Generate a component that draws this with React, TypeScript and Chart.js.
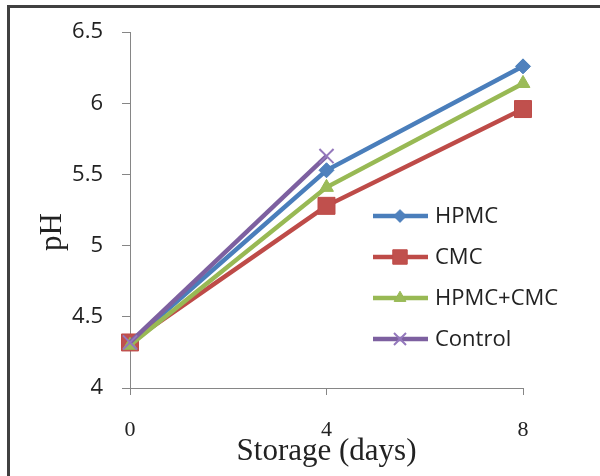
import React, { useEffect, useRef } from 'react';
import { Chart, registerables } from 'chart.js';
import { drawPoint } from 'chart.js/helpers';

Chart.register(...registerables);

// ---- data ----
const days: string[] = ['0', '4', '8'];
const hpmc: (number | null)[] = [4.32, 5.53, 6.26];
const cmc: (number | null)[] = [4.32, 5.28, 5.96];
const hpmcCmc: (number | null)[] = [4.3, 5.41, 6.14];
const control: (number | null)[] = [4.32, 5.63, null];
const seriesNames: string[] = ['HPMC', 'CMC', 'HPMC+CMC', 'Control'];
const yMin = 4;
const yMax = 6.5;
const yStep = 0.5;
const xTitle = 'Storage (days)';
const yTitle = 'pH';

const SANS = "'Open Sans', 'Liberation Sans', sans-serif";
const SERIF = "'Liberation Serif', 'DejaVu Serif', serif";
const AXIS = '#868686';
const TEXT = '#222222';

export default function App() {
  const ref = useRef<HTMLCanvasElement | null>(null);

  useEffect(() => {
    const canvas = ref.current;
    if (!canvas) return;

    const styles = [
      { line: '#4A7EBB', fill: '#4F81BD', point: 'rectRot', radius: 7.5, bw: 1 },
      { line: '#BE4B48', fill: '#C0504D', point: 'rect', radius: 12, bw: 1 },
      { line: '#98B954', fill: '#9BBB59', point: 'triangle', radius: 8, bw: 1 },
      { line: '#7D60A0', fill: '#9478BC', point: 'crossRot', radius: 10, bw: 2 },
    ];
    const values = [hpmc, cmc, hpmcCmc, control];

    const legendPlugin = {
      id: 'excelLegend',
      afterDatasetsDraw(chart: any) {
        const ctx = chart.ctx as CanvasRenderingContext2D;
        ctx.save();
        chart.data.datasets.forEach((ds: any, i: number) => {
          const y = 216 + i * 41;
          ctx.strokeStyle = ds.borderColor;
          ctx.lineWidth = 4.5;
          ctx.lineCap = 'butt';
          ctx.beginPath();
          ctx.moveTo(373, y);
          ctx.lineTo(428, y);
          ctx.stroke();
          ctx.fillStyle = ds.pointBackgroundColor;
          ctx.strokeStyle = ds.pointBorderColor;
          ctx.lineWidth = ds.pointBorderWidth;
          drawPoint(ctx, {
            pointStyle: ds.pointStyle,
            radius: ds.pointRadius * 0.85,
            rotation: 0,
            borderWidth: ds.pointBorderWidth,
          } as any, 400, y);
          ctx.fillStyle = TEXT;
          ctx.font = `22px ${SANS}`;
          ctx.textAlign = 'left';
          ctx.textBaseline = 'middle';
          ctx.fillText(ds.label, 435, y + 1);
        });
        ctx.restore();
      },
    };

    const titlesPlugin = {
      id: 'axisTitles',
      afterDraw(chart: any) {
        const ctx = chart.ctx as CanvasRenderingContext2D;
        const area = chart.chartArea;
        ctx.save();
        ctx.fillStyle = TEXT;
        ctx.font = `31px ${SERIF}`;
        ctx.textAlign = 'center';
        ctx.textBaseline = 'alphabetic';
        ctx.fillText(xTitle, (area.left + area.right) / 2, 460);
        ctx.translate(61, 232);
        ctx.rotate(-Math.PI / 2);
        ctx.fillText(yTitle, 0, 0);
        ctx.restore();
      },
    };

    const chart = new Chart(canvas, {
      type: 'line',
      data: {
        labels: days,
        datasets: seriesNames.map((name, i) => ({
          label: name,
          data: values[i],
          borderColor: styles[i].line,
          backgroundColor: styles[i].fill,
          pointBackgroundColor: styles[i].fill,
          pointBorderColor: i === 3 ? styles[i].fill : styles[i].line,
          pointBorderWidth: styles[i].bw,
          pointStyle: styles[i].point as any,
          pointRadius: styles[i].radius,
          borderWidth: 4.5,
          tension: 0,
          fill: false,
          spanGaps: false,
          clip: false as any,
          order: 4 - i,
        })),
      },
      options: {
        animation: false,
        responsive: false,
        maintainAspectRatio: false,
        devicePixelRatio: 1,
        layout: { padding: { top: 32, right: 77, left: 0, bottom: 0 } },
        plugins: {
          legend: { display: false },
          tooltip: { enabled: false },
          title: { display: false },
        },
        scales: {
          x: {
            type: 'category',
            offset: false,
            grid: {
              display: true,
              drawOnChartArea: false,
              drawTicks: true,
              tickLength: 7,
              color: AXIS,
              lineWidth: 1,
            },
            border: { display: true, color: AXIS, width: 1 },
            ticks: {
              font: { family: SERIF, size: 22 },
              color: TEXT,
              padding: 22,
              maxRotation: 0,
            },
            afterFit: (s: any) => {
              s.height = 88;
            },
          },
          y: {
            type: 'linear',
            min: yMin,
            max: yMax,
            grid: {
              display: true,
              drawOnChartArea: false,
              drawTicks: true,
              tickLength: 8,
              color: AXIS,
              lineWidth: 1,
            },
            border: { display: true, color: AXIS, width: 1 },
            ticks: {
              stepSize: yStep,
              font: { family: SANS, size: 22 },
              color: TEXT,
              padding: 19,
              callback: (v: any) => String(Number(v)),
            },
            afterFit: (s: any) => {
              s.width = 130;
            },
          },
        },
      },
      plugins: [legendPlugin, titlesPlugin],
    });

    return () => chart.destroy();
  }, []);

  return (
    <div
      style={{
        position: 'fixed',
        left: 0,
        top: 0,
        width: 600,
        height: 476,
        background: '#ffffff',
        overflow: 'hidden',
      }}
    >
      <canvas
        ref={ref}
        width={600}
        height={476}
        style={{ position: 'absolute', left: 0, top: 0, width: 600, height: 476 }}
      />
      <div
        style={{
          position: 'absolute',
          left: 7,
          top: 5,
          width: 620,
          height: 500,
          border: '3px solid #404040',
          boxSizing: 'border-box',
          pointerEvents: 'none',
        }}
      />
    </div>
  );
}
